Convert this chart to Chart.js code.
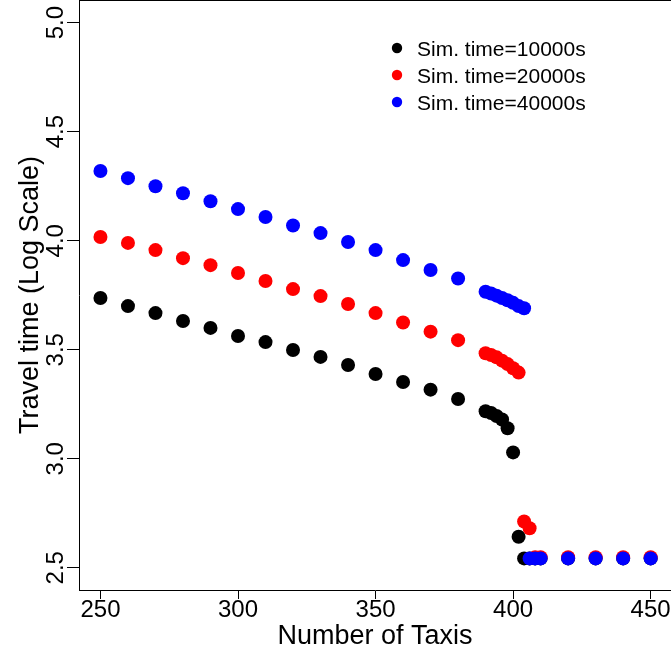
<!DOCTYPE html>
<html>
<head>
<meta charset="utf-8">
<script src="https://cdn.jsdelivr.net/npm/chart.js@4.4.1/dist/chart.umd.min.js"></script>
<style>
  html, body { margin: 0; padding: 0; background: #ffffff; }
  #wrap { width: 671px; height: 660px; }
</style>
</head>
<body>
<div id="wrap"><canvas id="c" width="671" height="660"></canvas></div>
<script>
// ---------- data ----------
const seriesLabels = ['Sim. time=10000s', 'Sim. time=20000s', 'Sim. time=40000s'];
const seriesColors = ['#000000', '#ff0000', '#0000ff'];

const taxis10k = [250,260,270,280,290,300,310,320,330,340,350,360,370,380,390,392,394,396,398,400,402,404,406,408,410,420,430,440,450,460];
const time10k  = [3.737,3.700,3.668,3.632,3.600,3.563,3.535,3.499,3.467,3.430,3.389,3.352,3.317,3.274,3.218,3.210,3.196,3.180,3.140,3.029,2.642,2.543,2.543,2.543,2.543,2.543,2.543,2.543,2.543,2.543];

const taxis20k = [250,260,270,280,290,300,310,320,330,340,350,360,370,380,390,392,394,396,398,400,402,404,406,408,410,420,430,440,450,460];
const time20k  = [4.017,3.990,3.957,3.920,3.888,3.852,3.815,3.778,3.746,3.710,3.668,3.625,3.583,3.544,3.484,3.476,3.465,3.450,3.434,3.415,3.395,2.712,2.681,2.548,2.548,2.548,2.548,2.548,2.548,2.548];

const taxis40k = [250,260,270,280,290,300,310,320,330,340,350,360,370,380,390,392,394,396,398,400,402,404,406,408,410,420,430,440,450];
const time40k  = [4.320,4.287,4.250,4.218,4.181,4.145,4.109,4.070,4.035,3.994,3.957,3.911,3.866,3.827,3.766,3.758,3.748,3.737,3.727,3.715,3.700,3.690,2.543,2.543,2.543,2.543,2.543,2.543,2.543];

const xTicks = [250, 300, 350, 400, 450];
const yTicks = [2.5, 3.0, 3.5, 4.0, 4.5, 5.0];

const xTitle = 'Number of Taxis';
const yTitle = 'Travel time (Log Scale)';

// ---------- chart ----------
const FONT = "'Liberation Sans', Arial, Helvetica, sans-serif";
Chart.defaults.font.family = FONT;
Chart.defaults.color = '#000000';

function pts(xs, ys) { return xs.map((x, i) => ({ x: x, y: ys[i] })); }
function noPad(s) { s.paddingTop = 0; s.paddingBottom = 0; s.paddingLeft = 0; s.paddingRight = 0; }

const boxPlugin = {
  id: 'boxPlugin',
  afterDraw(chart) {
    const a = chart.chartArea, ctx = chart.ctx;
    ctx.save();
    ctx.strokeStyle = '#000000';
    ctx.lineWidth = 1;
    ctx.beginPath();
    ctx.moveTo(a.left, Math.round(a.top) + 0.5);
    ctx.lineTo(a.right, Math.round(a.top) + 0.5);
    ctx.stroke();
    ctx.restore();
  }
};

const legendPlugin = {
  id: 'insideLegend',
  afterDatasetsDraw(chart) {
    const ctx = chart.ctx;
    const x0 = 397, y0 = 48, step = 27;
    ctx.save();
    ctx.font = '21px ' + FONT;
    ctx.textBaseline = 'middle';
    ctx.textAlign = 'left';
    chart.data.datasets.forEach((ds, i) => {
      const y = y0 + i * step;
      ctx.fillStyle = ds.backgroundColor;
      ctx.beginPath();
      ctx.arc(x0, y, 5.2, 0, Math.PI * 2);
      ctx.fill();
      ctx.fillStyle = '#000000';
      ctx.fillText(ds.label, 417, y + 2);
    });
    ctx.restore();
  }
};

const datasets = [
  { label: seriesLabels[0], data: pts(taxis10k, time10k), order: 2 },
  { label: seriesLabels[1], data: pts(taxis20k, time20k), order: 1 },
  { label: seriesLabels[2], data: pts(taxis40k, time40k), order: 0 }
].map((d, i) => Object.assign(d, {
  backgroundColor: seriesColors[i],
  borderColor: seriesColors[i],
  pointRadius: 7,
  pointHoverRadius: 7,
  borderWidth: 0,
  pointBorderWidth: 0,
  showLine: false
}));

new Chart(document.getElementById('c'), {
  type: 'scatter',
  data: { datasets: datasets },
  options: {
    responsive: false,
    animation: false,
    devicePixelRatio: 1,
    layout: { autoPadding: false, padding: { left: 0, right: 0, top: 0, bottom: 0 } },
    plugins: { legend: { display: false }, tooltip: { enabled: false } },
    scales: {
      x: {
        type: 'linear',
        position: 'bottom',
        min: 242.2,
        max: 457.4,
        afterBuildTicks: s => { s.ticks = xTicks.map(v => ({ value: v })); },
        afterFit: s => { s.height = 70; noPad(s); },
        ticks: {
          color: '#000000',
          font: { size: 24, family: FONT, lineHeight: 0.95 },
          padding: 0,
          maxRotation: 0,
          minRotation: 0,
          autoSkip: false,
          callback: v => String(v)
        },
        grid: { drawOnChartArea: false, drawTicks: true, tickLength: 9, color: '#000000', tickColor: '#000000', tickWidth: 1 },
        border: { display: true, color: '#000000', width: 1 },
        title: { display: true, text: xTitle, color: '#000000', font: { size: 27, family: FONT }, padding: { top: 0, bottom: 7 } }
      },
      y: {
        type: 'linear',
        position: 'left',
        min: 2.398,
        max: 5.104,
        afterBuildTicks: s => { s.ticks = yTicks.map(v => ({ value: v })); },
        afterFit: s => { s.width = 79; noPad(s); },
        ticks: {
          color: '#000000',
          font: { size: 24, family: FONT, lineHeight: 0.01 },
          padding: -6,
          minRotation: 90,
          maxRotation: 90,
          crossAlign: 'center',
          autoSkip: false,
          callback: v => Number(v).toFixed(1)
        },
        grid: { drawOnChartArea: false, drawTicks: true, tickLength: 12, color: '#000000', tickColor: '#000000', tickWidth: 1 },
        border: { display: true, color: '#000000', width: 1 },
        title: { display: true, text: yTitle, color: '#000000', font: { size: 27, family: FONT }, padding: { top: 14, bottom: 0 } }
      }
    }
  },
  plugins: [boxPlugin, legendPlugin]
});
</script>
</body>
</html>
